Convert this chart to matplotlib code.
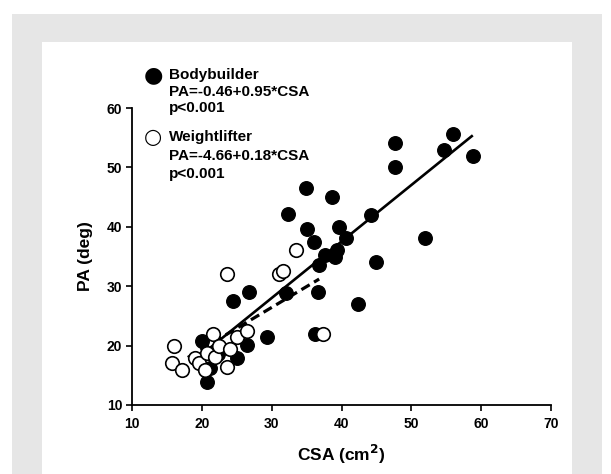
import matplotlib
matplotlib.use("Agg")
import matplotlib.pyplot as plt
from matplotlib.patches import Rectangle

# Bodybuilder (filled circles), CSA in cm^2 and PA in degrees
bb_csa = [55.9, 54.7, 58.8, 47.6, 47.6, 34.9, 38.7, 32.4, 44.2, 35.0,
          39.7, 36.0, 40.6, 51.9, 39.3, 37.6, 39.1, 36.8, 45.0, 36.7,
          42.3, 32.1, 26.7, 24.4, 29.4, 36.2, 20.0, 26.5, 25.0, 20.7,
          21.2, 22.3]
bb_pa = [55.6, 52.9, 52.0, 54.1, 50.0, 46.5, 45.0, 42.1, 42.0, 39.6,
         40.0, 37.5, 38.1, 38.1, 36.1, 35.2, 35.0, 33.6, 34.1, 29.0,
         27.0, 28.9, 29.1, 27.5, 21.5, 21.9, 20.8, 20.1, 17.9, 13.9,
         16.2, 18.6]

# Weightlifter (open circles)
wl_csa = [15.7, 16.0, 17.1, 19.0, 19.6, 20.5, 20.7, 21.6, 21.9, 22.5,
          23.6, 24.0, 25.1, 26.5, 23.65, 31.0, 31.6, 33.45, 37.3]
wl_pa = [17.1, 19.9, 15.9, 17.9, 17.0, 15.9, 18.7, 22.0, 18.0, 19.9,
         16.45, 19.5, 21.5, 22.5, 32.05, 32.0, 32.6, 36.1, 21.9]

# regression lines, end points
bb_fit_x = [20.0, 58.8]
bb_fit_y = [18.5, 55.4]
wl_fit_x = [18.0, 36.8]
wl_fit_y = [18.0, 31.2]

legend_lines = [
    ("Bodybuilder", "PA=-0.46+0.95*CSA", "p<0.001"),
    ("Weightlifter", "PA=-4.66+0.18*CSA", "p<0.001"),
]

plt.rcParams["font.family"] = ["Liberation Sans", "DejaVu Sans"]
plt.rcParams["font.weight"] = "bold"

W, H = 611, 474
fig = plt.figure(figsize=(W / 100, H / 100), dpi=100)
fig.patch.set_facecolor("white")

# scanned grey frame (open at the bottom)
fig.patches.append(Rectangle((12 / W, -0.05), 590 / W, 1.05 - 14 / H,
                             transform=fig.transFigure, facecolor="#e6e6e6",
                             edgecolor="none", zorder=-2))
fig.patches.append(Rectangle((42 / W, -0.05), 530 / W, 1.05 - 42 / H,
                             transform=fig.transFigure, facecolor="white",
                             edgecolor="none", zorder=-1))

ax = fig.add_axes([132 / W, 1 - 405 / H, 419 / W, 297 / H])
ax.set_zorder(2)
ax.set_facecolor("none")

ax.scatter(bb_csa, bb_pa, s=95, color="black", zorder=3)
ax.plot(bb_fit_x, bb_fit_y, color="black", lw=1.9, zorder=4,
        solid_capstyle="butt")
ax.plot(wl_fit_x, wl_fit_y, color="black", lw=2.3, zorder=4,
        dashes=(3, 1.6))
ax.scatter(wl_csa, wl_pa, s=95, facecolor="white", edgecolor="black",
           linewidth=1.2, zorder=5)

ax.set_xlim(10, 70)
ax.set_ylim(10, 60)
ax.set_xticks(range(10, 71, 10))
ax.set_yticks(range(10, 61, 10))
for s in ["top", "right"]:
    ax.spines[s].set_visible(False)
for s in ["left", "bottom"]:
    ax.spines[s].set_linewidth(1.3)
ax.tick_params(direction="out", length=4, width=1.2, labelsize=10)
ax.tick_params(axis="x", pad=5)
ax.tick_params(axis="y", pad=3)
for lab in ax.get_xticklabels() + ax.get_yticklabels():
    lab.set_fontweight("bold")

ax.set_xlabel("CSA (cm$^{\\mathbf{2}}$)", fontsize=12.5, fontweight="bold",
              labelpad=8)
ax.set_ylabel("PA (deg)", fontsize=12.5, fontweight="bold", labelpad=10)

# legend block drawn by hand, as in the original figure
tx = 169 / W
rows = [(75, 92, 108), (137, 156, 174)]
for (title, eq, p), (y1, y2, y3), filled in zip(legend_lines, rows, [True, False]):
    fig.text(153 / W, 1 - y1 / H, "\u25CF" if filled else "\u25CB",
             fontsize=16 if filled else 15, ha="center", va="center",
             family="DejaVu Sans")
    fig.text(tx, 1 - y1 / H, title, fontsize=11, fontweight="bold", va="center")
    fig.text(tx, 1 - y2 / H, eq, fontsize=11, fontweight="bold", va="center")
    fig.text(tx, 1 - y3 / H, p, fontsize=11, fontweight="bold", va="center")

fig.savefig("out.png", dpi=100)
